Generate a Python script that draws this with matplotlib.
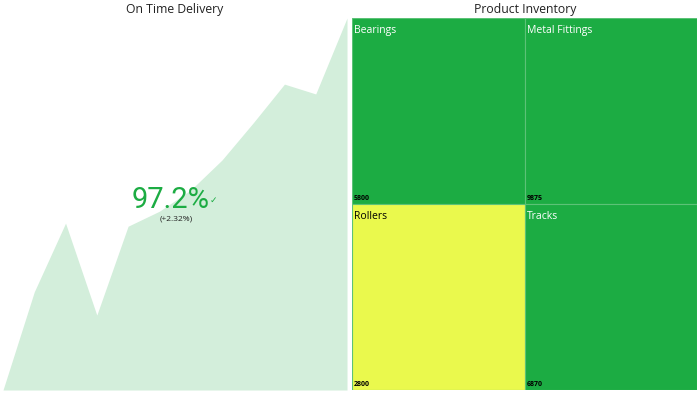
import matplotlib
matplotlib.use("Agg")
import matplotlib.pyplot as plt
from matplotlib.patches import Rectangle

# ---- data ----
delivery_periods = list(range(1, 13))
delivery_values = [90.0, 91.9, 93.23, 91.45, 93.17, 93.46, 93.87, 94.45, 95.17, 95.92, 95.73, 97.2]
kpi_text = "97.2%"
kpi_change = "(+2.32%)"

inv_categories = ["Bearings", "Metal Fittings", "Rollers", "Tracks"]
inv_values = [5800, 9875, 2800, 6870]
low_threshold = 3000

GREEN = "#1cac43"
YELLOW = "#eaf94d"
AREA = "#d3eedb"
FONT = ["Open Sans", "DejaVu Sans"]

W, H = 700, 394
fig = plt.figure(figsize=(7, 3.94), dpi=100)
fig.patch.set_facecolor("white")

def fx(px):
    return px / W

def fy(py):
    return 1 - py / H

# ---- left: area chart ----
ax1 = fig.add_axes([fx(3), fy(390), fx(347) - fx(3), fy(18) - fy(390)])
ax1.fill_between(delivery_periods, delivery_values, min(delivery_values),
                 color=AREA, linewidth=0)
ax1.set_xlim(delivery_periods[0], delivery_periods[-1])
ax1.set_ylim(min(delivery_values), max(delivery_values))
ax1.axis("off")

fig.text(fx(175), fy(9), "On Time Delivery", ha="center", va="center",
         fontsize=8.8, color="#222222", family=FONT)
fig.text(fx(171), fy(200), kpi_text, ha="center", va="center",
         fontsize=21, color=GREEN, family=["Roboto", "DejaVu Sans"])
fig.text(fx(213.5), fy(200), "✓", ha="center", va="center",
         fontsize=6.5, color=GREEN, family=["DejaVu Sans"])
fig.text(fx(176), fy(219), kpi_change, ha="center", va="center",
         fontsize=6, color="#222222", family=FONT)

# ---- right: treemap grid ----
ax2 = fig.add_axes([fx(352), fy(390), fx(697) - fx(352), fy(18) - fy(390)])
ax2.set_xlim(0, 2)
ax2.set_ylim(0, 2)
ax2.axis("off")
for i, (cat, val) in enumerate(zip(inv_categories, inv_values)):
    col = i % 2
    row = 1 - i // 2
    color = YELLOW if val < low_threshold else GREEN
    tcolor = "black" if val < low_threshold else "white"
    ax2.add_patch(Rectangle((col, row), 1, 1, facecolor=color,
                            edgecolor="#5cc277", linewidth=0.8))
    ax2.text(col + 0.012, row + 0.962, cat, ha="left", va="top",
             fontsize=7.5, color=tcolor, family=FONT)
    ax2.text(col + 0.012, row + 0.012, f"{val}", ha="left", va="bottom",
             fontsize=5, color="black", fontweight="bold", family=FONT)

fig.text(fx(525), fy(9), "Product Inventory", ha="center", va="center",
         fontsize=8.8, color="#222222", family=FONT)

fig.savefig("out.png", dpi=100)
